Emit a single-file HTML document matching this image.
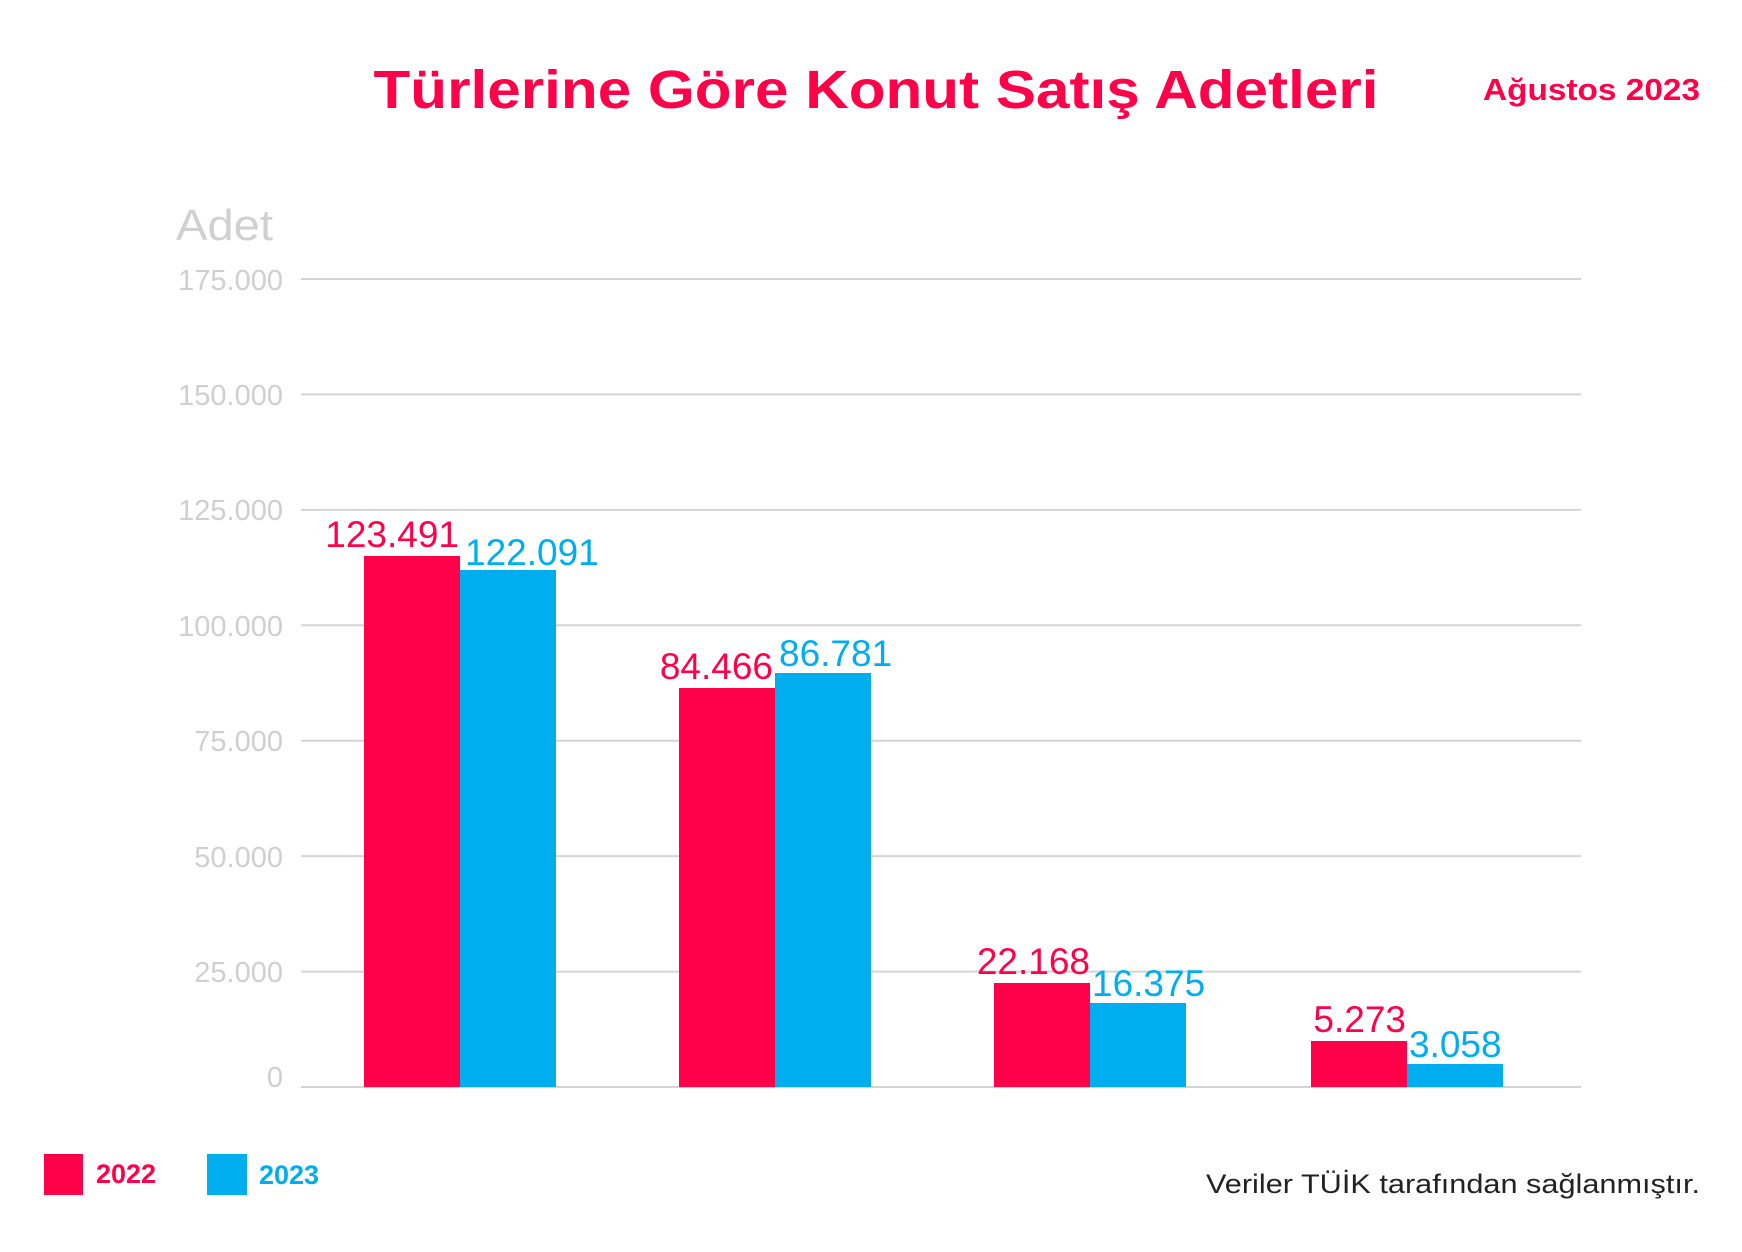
<!DOCTYPE html>
<html><head><meta charset="utf-8"><style>
body{margin:0;background:#fff;}
svg text{font-family:"Liberation Sans",sans-serif;}
</style></head><body>
<svg width="1742" height="1247" xmlns="http://www.w3.org/2000/svg">
<rect width="1742" height="1247" fill="#fff"/>
<text x="876" y="108" text-anchor="middle" font-size="54" font-weight="bold" fill="#ff0049" textLength="1005" lengthAdjust="spacingAndGlyphs">Türlerine Göre Konut Satış Adetleri</text>
<text x="1700" y="100" text-anchor="end" font-size="31" font-weight="bold" fill="#ff0049" textLength="217" lengthAdjust="spacingAndGlyphs">Ağustos 2023</text>
<text x="176" y="240" font-size="44" fill="#d0d0d0" textLength="97" lengthAdjust="spacingAndGlyphs">Adet</text>
<g stroke="#d4d4d4" stroke-width="2">
<line x1="301" x2="1581" y1="279" y2="279"/>
<line x1="301" x2="1581" y1="394.4" y2="394.4"/>
<line x1="301" x2="1581" y1="509.9" y2="509.9"/>
<line x1="301" x2="1581" y1="625.3" y2="625.3"/>
<line x1="301" x2="1581" y1="740.7" y2="740.7"/>
<line x1="301" x2="1581" y1="856.1" y2="856.1"/>
<line x1="301" x2="1581" y1="971.6" y2="971.6"/>
<line x1="301" x2="1581" y1="1087" y2="1087"/>
</g>
<g font-size="29" fill="#cfcfcf" text-anchor="end">
<text x="283" y="290">175.000</text>
<text x="283" y="405">150.000</text>
<text x="283" y="520">125.000</text>
<text x="283" y="636">100.000</text>
<text x="283" y="751">75.000</text>
<text x="283" y="867">50.000</text>
<text x="283" y="982">25.000</text>
<text x="283" y="1087">0</text>
</g>
<g fill="#ff0049">
<rect x="364" y="556" width="96" height="531"/>
<rect x="679" y="688" width="96" height="399"/>
<rect x="994" y="983" width="96" height="104"/>
<rect x="1311" y="1041" width="96" height="46"/>
</g>
<g fill="#00aeef">
<rect x="460" y="570" width="96" height="517"/>
<rect x="775" y="673" width="96" height="414"/>
<rect x="1090" y="1003" width="96" height="84"/>
<rect x="1407" y="1064" width="96" height="23"/>
</g>
<g font-size="37" fill="#ff0049" text-anchor="end">
<text x="459" y="547">123.491</text>
<text x="773" y="679">84.466</text>
<text x="1090" y="974">22.168</text>
<text x="1406" y="1032">5.273</text>
</g>
<g font-size="37" fill="#00aeef">
<text x="465" y="565">122.091</text>
<text x="779" y="666">86.781</text>
<text x="1092" y="996">16.375</text>
<text x="1409" y="1057">3.058</text>
</g>
<rect x="44" y="1154" width="39" height="41" fill="#ff0049"/>
<text x="96" y="1183" font-size="27" font-weight="bold" fill="#ff0049">2022</text>
<rect x="207" y="1154" width="40" height="41" fill="#00aeef"/>
<text x="259" y="1184" font-size="27" font-weight="bold" fill="#00aeef">2023</text>
<text x="1700" y="1193" text-anchor="end" font-size="27" fill="#222" textLength="494" lengthAdjust="spacingAndGlyphs">Veriler TÜİK tarafından sağlanmıştır.</text>
</svg>
</body></html>
